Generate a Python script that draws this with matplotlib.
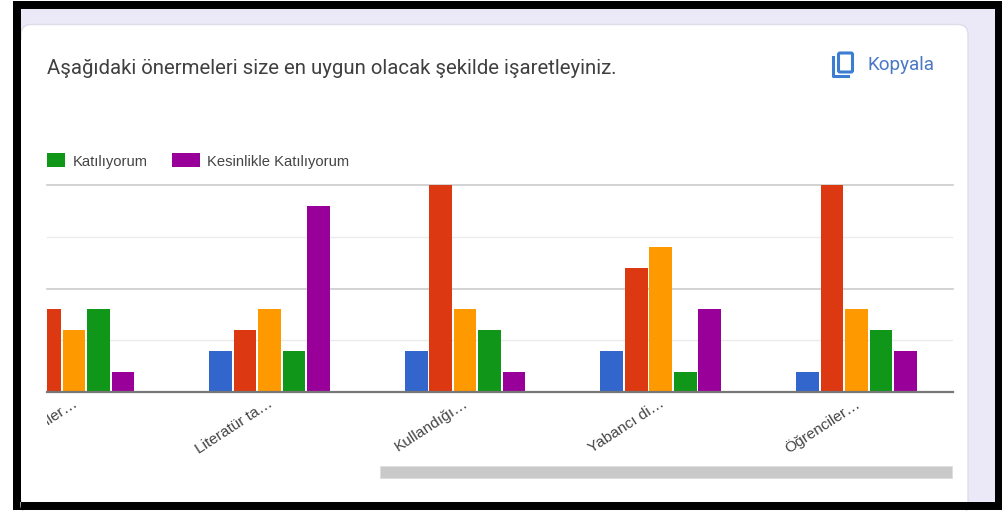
import numpy as np
from matplotlib import pyplot as plt
from matplotlib.patches import Rectangle, FancyBboxPatch
from matplotlib.transforms import Bbox, ScaledTranslation

W, H = 1003, 511

labels = ['iler…', 'Literatür ta…', 'Kullandığı…', 'Yabancı di…', 'Öğrenciler…']
series_names = ['Kesinlikle Katılmıyorum', 'Katılmıyorum', 'Kararsızım', 'Katılıyorum', 'Kesinlikle Katılıyorum']
blue = [0, 2, 2, 2, 1]
red = [4, 3, 10, 6, 10]
orange = [3, 4, 4, 7, 4]
green = [4, 2, 3, 1, 3]
purple = [1, 9, 1, 4, 2]
colors = ['#3366cc', '#dc3912', '#ff9900', '#109618', '#990099']

plt.rcParams['font.family'] = ['Liberation Sans', 'DejaVu Sans']
fig = plt.figure(figsize=(W / 100, H / 100), dpi=100, facecolor='white')

# page chrome, in pixel coordinates
bg = fig.add_axes([0, 0, 1, 1])
bg.set_xlim(0, W)
bg.set_ylim(H, 0)
bg.axis('off')
bg.add_patch(Rectangle((13, 1), 990, 509, fc='black', ec='none'))
bg.add_patch(Rectangle((21, 9), 974, 493, fc='#ebe9f8', ec='none'))
bg.add_patch(FancyBboxPatch((21, 24.5), 947, 490, boxstyle='round,pad=0,rounding_size=10',
                            fc='white', ec='#dedce8', lw=1))
bg.add_patch(Rectangle((21, 40), 20, 460, fc='white', ec='none'))
bg.add_patch(Rectangle((21, 502), 974, 8, fc='black', ec='none'))
bg.add_patch(Rectangle((13, 9), 8, 493, fc='black', ec='none'))

bg.text(47, 68, 'Aşağıdaki önermeleri size en uygun olacak şekilde işaretleyiniz.',
        family='Roboto', fontsize=14.65, color='#404040', va='center', ha='left')
bg.text(868, 65, 'Kopyala', family='Roboto', fontsize=13.6, color='#4a78c4', va='center', ha='left')

# copy icon
icon = '#3b7dd0'
bg.add_patch(FancyBboxPatch((838.5, 53), 14, 19, boxstyle='round,pad=0,rounding_size=1.5',
                            fc='none', ec=icon, lw=2.2))
bg.plot([833, 833, 848], [57, 76.5, 76.5], color=icon, lw=2.2)

# legend, swatch widths differ in the original
bg.add_patch(Rectangle((47, 153), 18.5, 14, fc=colors[3], ec='none'))
bg.text(73, 162, series_names[3], fontsize=10.6, color='#444444', va='center')
bg.add_patch(Rectangle((172, 153), 28, 14, fc=colors[4], ec='none'))
bg.text(207, 162, series_names[4], fontsize=10.6, color='#444444', va='center')

# scrollbar
bg.add_patch(Rectangle((380, 466), 572, 12, fc='#c9c9c9', ec='#dddddd', lw=0.5))

# chart
left, right, top, base = 47, 953, 185, 392.3
ax = fig.add_axes([left / W, 1 - base / H, (right - left) / W, (base - top) / H])
ax.patch.set_alpha(0)

group_px = 195.6
center0 = 74
x = np.arange(len(labels))
pitch = 24.5 / group_px
width = 22.6 / group_px
for i, vals in enumerate([blue, red, orange, green, purple]):
    ax.bar(x + (i - 2) * pitch, vals, width, color=colors[i], label=series_names[i], zorder=3)

ax.set_xlim((left - center0) / group_px, (right - center0) / group_px)
ax.set_ylim(0, 10)

ax.set_yticks([0, 5, 10])
ax.set_yticks([2.5, 7.5], minor=True)
ax.grid(axis='y', which='major', color='#cccccc', lw=1.2, clip_on=False)
ax.grid(axis='y', which='minor', color='#ebebeb', lw=1)
ax.tick_params(axis='y', which='both', length=0, labelleft=False)
ax.tick_params(axis='x', length=0, pad=3)
ax.set_axisbelow(True)
for s in ['top', 'left', 'right']:
    ax.spines[s].set_visible(False)
ax.spines['bottom'].set_color('#777777')
ax.spines['bottom'].set_linewidth(1.6)
ax.spines['bottom'].set_zorder(5)

ax.set_xticks(x)
ax.set_xticklabels(labels, rotation=33, ha='right', rotation_mode='anchor',
                   fontsize=11.1, color='#444444')
# labels sit a little left of the tick
shift = ScaledTranslation(-1.5 / 72, 0, fig.dpi_scale_trans)
for lab in ax.get_xticklabels():
    lab.set_transform(lab.get_transform() + shift)
# first label is cut at the left edge of the scrolled chart
first = ax.get_xticklabels()[0]
first.set_clip_on(True)
first.set_clip_box(Bbox([[left, 0], [W, H]]))

fig.savefig('out.png', dpi=100)
